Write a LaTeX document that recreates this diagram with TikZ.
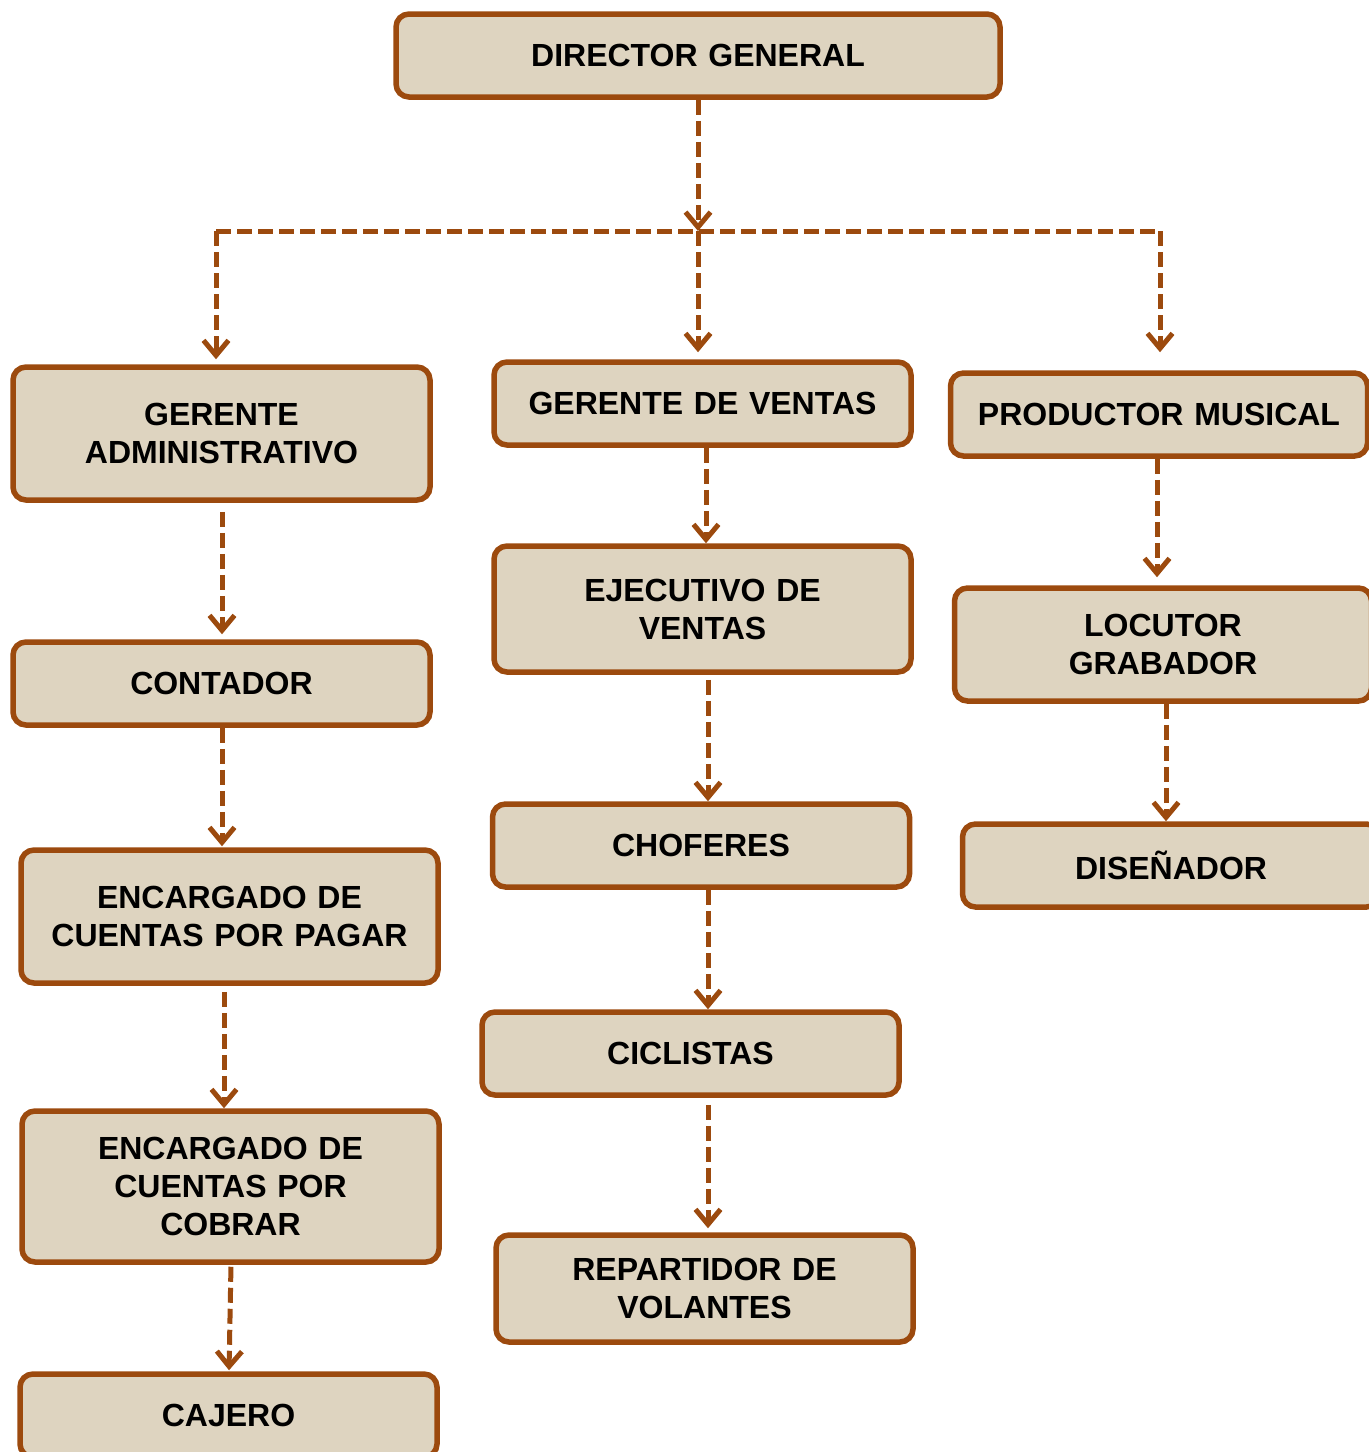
\documentclass[tikz,border=0pt]{standalone}
\usepackage{fontspec}
\setmainfont{Liberation Sans}
\usetikzlibrary{arrows.meta}
\definecolor{brd}{RGB}{156,74,14}
\definecolor{bfill}{RGB}{222,212,192}
\tikzset{
  orgbox/.style={draw=brd, line width=2.75pt, fill=bfill, rounded corners=6.5pt,
    minimum height=#1, text width=190pt, align=center, inner sep=0pt,
    font=\fontsize{16}{19}\selectfont\bfseries, minimum width=208.5pt},
  orgbox/.default=41.5pt,
  dline/.style={draw=brd, line width=2.5pt, dash pattern=on 7.5pt off 3pt},
  conn/.style={dline, -{Straight Barb[length=7.5pt,width=12.5pt]}},
}
\begin{document}
\begin{tikzpicture}[x=0.5pt,y=-0.5pt]
\useasboundingbox (0,0) rectangle (1369,1452);
\clip (0,0) rectangle (1369,1452);
% nodes
\node[orgbox, minimum width=302pt] (dg) at (698,55.5) {DIRECTOR GENERAL};
\node[orgbox=66.5pt] (ga) at (221.5,433.5) {GERENTE\\ADMINISTRATIVO};
\node[orgbox] (gv) at (702.5,403.5) {GERENTE DE VENTAS};
\node[orgbox] (pm) at (1159,414.5) {PRODUCTOR MUSICAL};
\node[orgbox] (ct) at (221.5,683.5) {CONTADOR};
\node[orgbox=63pt] (ev) at (702.5,609) {EJECUTIVO DE\\VENTAS};
\node[orgbox=56.5pt] (lg) at (1163,644.5) {LOCUTOR\\GRABADOR};
\node[orgbox=66.5pt] (cp) at (229.5,916.5) {ENCARGADO DE\\CUENTAS POR PAGAR};
\node[orgbox] (ch) at (701,845.5) {CHOFERES};
\node[orgbox] (di) at (1171,865.5) {DISEÑADOR};
\node[orgbox=75.5pt] (cc) at (230.5,1186.5) {ENCARGADO DE\\CUENTAS POR\\COBRAR};
\node[orgbox] (ci) at (690.5,1053.5) {CICLISTAS};
\node[orgbox=53.5pt] (rv) at (704.5,1288.5) {REPARTIDOR DE\\VOLANTES};
\node[orgbox] (cj) at (228.5,1415.5) {CAJERO};
% junction
\coordinate (jl) at (216,231);
\coordinate (jm) at (698,231);
\coordinate (jr) at (1160,231);
\draw[conn] (dg.south) -- (jm);
\draw[dline] (jl) -- (jr);
\draw[conn, shorten >=2.5pt] (jl) -- (jl |- ga.north);
\draw[conn, shorten >=3.5pt] (jm) -- (jm |- gv.north);
\draw[conn, shorten >=9pt] (jr) -- (jr |- pm.north);
% chains
\draw[conn, shorten <=4.5pt, shorten >=2.5pt] ([xshift=0.25pt]ga.south) -- ([xshift=0.25pt]ct.north);
\draw[conn] ([xshift=1.75pt]gv.south) -- ([xshift=1.75pt]ev.north);
\draw[conn, shorten >=4pt] ([xshift=-1pt]pm.south) -- ([xshift=-1pt]pm.south |- lg.north);
\draw[conn, shorten >=0.5pt] ([xshift=0.25pt]ct.south) -- ([xshift=0.25pt]ct.south |- cp.north);
\draw[conn, shorten <=2.5pt] ([xshift=2.75pt]ev.south) -- ([xshift=2.75pt]ev.south |- ch.north);
\draw[conn] ([xshift=1.5pt]lg.south) -- ([xshift=1.5pt]lg.south |- di.north);
\draw[conn, shorten <=3pt] ([xshift=-2.75pt]cp.south) -- ([xshift=-2.75pt]cp.south |- cc.north);
\draw[conn] ([xshift=3.5pt]ch.south) -- ([xshift=3.5pt]ch.south |- ci.north);
\draw[conn, shorten <=1pt, shorten >=0.5pt] ([xshift=0.25pt]cc.south) -- ([xshift=0.25pt]cj.north);
\draw[conn, shorten <=3.5pt, shorten >=2pt] ([xshift=8.75pt]ci.south) -- ([xshift=8.75pt]ci.south |- rv.north);
\end{tikzpicture}
\end{document}
